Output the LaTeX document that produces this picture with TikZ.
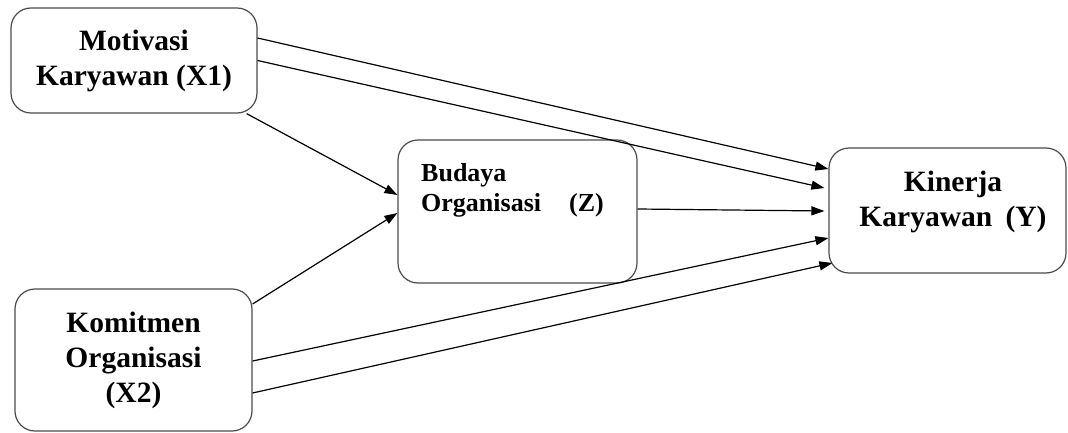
\documentclass[tikz,border=0pt]{standalone}
\usepackage{fontspec}
\setmainfont{Liberation Serif}
\usetikzlibrary{arrows.meta}
\begin{document}
\begin{tikzpicture}[x=1pt,y=1pt,
  box/.style={draw=black!70, line width=1.2pt, rounded corners=20pt, inner sep=0pt},
  lbl/.style={font=\bfseries\fontsize{29.5}{35}\selectfont, align=center},
  arr/.style={line width=1.2pt, -{Triangle[length=13pt,width=9pt]}}]
\useasboundingbox (0,0) rectangle (1068,432);
\node[box, lbl, minimum width=246pt, minimum height=105pt] (m) at (134,371.5) {Motivasi\\Karyawan (X1)};
\node[box, lbl, minimum width=237pt, minimum height=142pt] (c) at (133.5,72) {Komitmen\\Organisasi\\(X2)};
\node[box, minimum width=239pt, minimum height=143pt] (b) at (517.5,220.5) {};
\node[box, minimum width=237pt, minimum height=125pt] (k) at (947.5,221.5) {};
\node[lbl, font=\bfseries\fontsize{26}{30}\selectfont, align=left, anchor=north west, inner sep=0pt] (bt) at (421,269) {Budaya\\Organisasi\hspace{28pt}(Z)};
\node[lbl] (kt) at (953,230) {Kinerja\\Karyawan\hspace{6pt} (Y)};
\draw[arr] ([yshift=22.5pt]m.east) -- ([yshift=41.5pt]k.west);
\draw[arr] (m.east) -- ([xshift=-4pt,yshift=22.5pt]k.west);
\draw[arr] ([xshift=-11pt]m.south east) -- ([yshift=16.5pt]b.west);
\draw[arr] ([yshift=56pt]c.east) -- ([yshift=-1.5pt]b.west);
\draw[arr] ([yshift=2.5pt]b.east) -- ([xshift=-4pt,yshift=-0.5pt]k.west);
\draw[arr] ([yshift=-1pt]c.east) -- ([yshift=-27.5pt]k.west);
\draw[arr] ([yshift=-33pt]c.east) -- ([xshift=4pt,yshift=-52.5pt]k.west);
\end{tikzpicture}
\end{document}
